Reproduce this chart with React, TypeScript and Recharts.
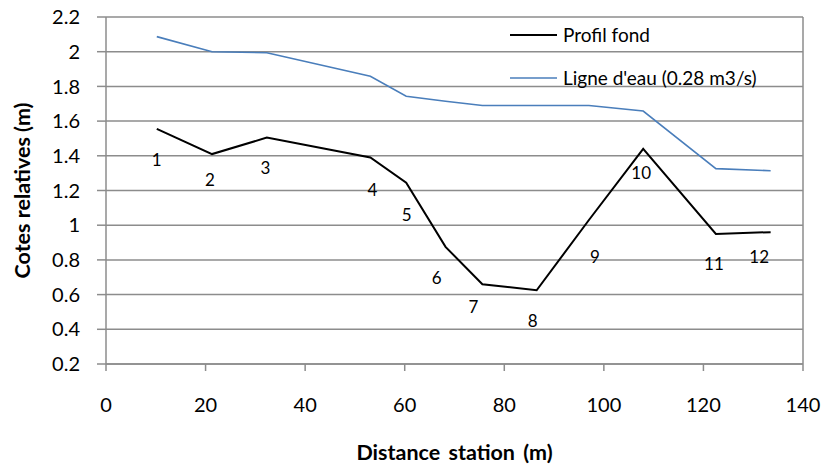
import { ComposedChart, Line, Scatter, XAxis, YAxis, CartesianGrid, Legend, ReferenceLine, Label } from 'recharts'

// Profil en long : cote du fond et ligne d'eau par station, numéros de stations posés à côté
const DISTANCE = [10.2, 21.3, 32.3, 53.1, 60.3, 68.2, 75.6, 86.5, 97.0, 107.9, 122.5, 133.5]
const PROFIL_FOND = [1.555, 1.41, 1.505, 1.39, 1.245, 0.875, 0.66, 0.625, 1.03, 1.44, 0.95, 0.96]
const LIGNE_EAU = [2.087, 2.0, 1.994, 1.858, 1.743, 1.714, 1.69, 1.69, 1.69, 1.658, 1.326, 1.314]

// numéros des stations et leur emplacement (en unités du graphique)
const STATIONS = ['1', '2', '3', '4', '5', '6', '7', '8', '9', '10', '11', '12']
const STATION_X = [10.2, 20.9, 32.0, 53.5, 60.4, 66.4, 73.8, 85.7, 98.2, 107.5, 122.1, 131.2]
const STATION_Y = [1.376, 1.261, 1.33, 1.203, 1.059, 0.696, 0.529, 0.448, 0.822, 1.301, 0.782, 0.817]

const X_TICKS = [0, 20, 40, 60, 80, 100, 120, 140]
const Y_TICKS = [0.2, 0.4, 0.6, 0.8, 1, 1.2, 1.4, 1.6, 1.8, 2, 2.2]

const SERIES = [
  { key: 'fond', name: 'Profil fond', color: '#000000' },
  { key: 'eau', name: "Ligne d'eau (0.28 m3/s)", color: '#4a7ebb' },
]

const FONT = 'Lato, "Noto Sans", sans-serif'
const GRID = '#8c8c8c'

const rows = DISTANCE.map((x, i) => ({ x, fond: PROFIL_FOND[i], eau: LIGNE_EAU[i] }))
const stationRows = STATIONS.map((n, i) => ({ x: STATION_X[i], y: STATION_Y[i], n }))

const StationLabel = (p: any) => (
  <text
    x={p.cx}
    y={p.cy}
    textAnchor="middle"
    dominantBaseline="central"
    fontFamily={FONT}
    fontSize={17}
    fill="#000"
  >
    {p.payload.n}
  </text>
)

const LegendBox = () => (
  <div style={{ fontFamily: FONT, fontSize: 19, color: '#000' }}>
    {SERIES.map((s) => (
      <div key={s.key} style={{ display: 'flex', alignItems: 'center', height: 43, whiteSpace: 'nowrap' }}>
        <svg width={47} height={4} style={{ display: 'block' }}>
          <line x1={0} y1={2} x2={47} y2={2} stroke={s.color} strokeWidth={s.key === 'fond' ? 2 : 1.6} />
        </svg>
        <span style={{ marginLeft: 6 }}>{s.name}</span>
      </div>
    ))}
  </div>
)

export default function App() {
  return (
    <div style={{ position: 'absolute', left: 0, top: 0, background: '#fff' }}>
      <ComposedChart width={825} height={464} data={rows} margin={{ top: 17, right: 22, bottom: 40, left: 46 }}>
        <CartesianGrid vertical={false} stroke={GRID} strokeWidth={1.5} />
        <XAxis
          type="number"
          dataKey="x"
          domain={[0, 140]}
          ticks={X_TICKS}
          interval={0}
          height={60}
          tickSize={7}
          tickMargin={27}
          stroke={GRID}
          strokeWidth={1.5}
          tick={{ fontFamily: FONT, fontSize: 20, fill: '#000' }}
        >
          <Label
            content={({ viewBox }: any) => (
              <text
                x={viewBox.x + viewBox.width / 2}
                y={452}
                textAnchor="middle"
                dominantBaseline="central"
                fontFamily={FONT}
                fontWeight="bold"
                fontSize={21.5}
                fill="#000"
                wordSpacing={3}
              >
                Distance station (m)
              </text>
            )}
          />
        </XAxis>
        <YAxis
          type="number"
          domain={[0.2, 2.2]}
          ticks={Y_TICKS}
          interval={0}
          width={60}
          tickSize={9}
          tickMargin={17}
          stroke={GRID}
          strokeWidth={1.5}
          allowDataOverflow
          tick={{ fontFamily: FONT, fontSize: 20, fill: '#000' }}
        >
          <Label
            content={({ viewBox }: any) => {
              const cy = viewBox.y + viewBox.height / 2
              return (
                <text
                  x={22}
                  y={cy}
                  transform={`rotate(-90, 22, ${cy})`}
                  textAnchor="middle"
                  dominantBaseline="central"
                  fontFamily={FONT}
                  fontWeight="bold"
                  fontSize={21.5}
                  fill="#000"
                >
                  Cotes relatives (m)
                </text>
              )
            }}
          />
        </YAxis>
        <ReferenceLine x={140} stroke={GRID} strokeWidth={1.5} />
        <Legend
          layout="vertical"
          align="center"
          verticalAlign="middle"
          content={LegendBox}
          wrapperStyle={{ left: 510, top: 13, width: 300 }}
        />
        <Line
          type="linear"
          dataKey="fond"
          name="Profil fond"
          stroke="#000"
          strokeWidth={2}
          dot={false}
          isAnimationActive={false}
        />
        <Line
          type="linear"
          dataKey="eau"
          name="Ligne d'eau (0.28 m3/s)"
          stroke="#4a7ebb"
          strokeWidth={1.6}
          dot={false}
          isAnimationActive={false}
        />
        <Scatter
          data={stationRows}
          dataKey="y"
          legendType="none"
          shape={StationLabel}
          isAnimationActive={false}
        />
      </ComposedChart>
    </div>
  )
}
